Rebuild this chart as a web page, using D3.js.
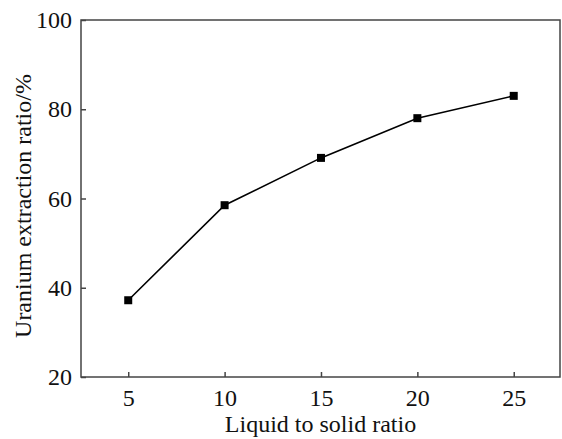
<!DOCTYPE html>
<html>
<head>
<meta charset="utf-8">
<script src="https://cdn.jsdelivr.net/npm/d3@7"></script>
<style>
  body { margin: 0; background: #fff; }
  text { font-family: "Liberation Serif", "DejaVu Serif", serif; fill: #111; }
</style>
</head>
<body>
<script>
// chart data
var ratios = [5, 10, 15, 20, 25];
var extraction = [37.2, 58.5, 69.1, 78, 83];
var xTicks = [5, 10, 15, 20, 25];
var yTicks = [20, 40, 60, 80, 100];

var width = 562, height = 439;
var plotLeft = 81, plotRight = 560, plotTop = 20, plotBottom = 377;

var svg = d3.select("body").append("svg")
    .attr("width", width)
    .attr("height", height);

var x = d3.scaleLinear().domain([2.55, 27.4]).range([plotLeft, plotRight]);
var y = d3.scaleLinear().domain([20, 100]).range([plotBottom, plotTop]);

// frame
svg.append("rect")
    .attr("x", plotLeft).attr("y", plotTop)
    .attr("width", plotRight - plotLeft).attr("height", plotBottom - plotTop)
    .attr("fill", "none")
    .attr("stroke", "#444")
    .attr("stroke-width", 1.5);

// x axis, ticks pointing inward
var xAxis = svg.append("g")
    .attr("transform", "translate(0," + plotBottom + ")")
    .attr("font-family", null)
    .call(d3.axisBottom(x).tickValues(xTicks).tickSize(-5).tickPadding(12));
xAxis.select(".domain").remove();
xAxis.selectAll("line").attr("stroke", "#444").attr("stroke-width", 1.5);
xAxis.selectAll("text").style("font-size", "24px").attr("fill", "#111");

var yAxis = svg.append("g")
    .attr("transform", "translate(" + plotLeft + ",0)")
    .call(d3.axisLeft(y).tickValues(yTicks).tickSize(-5).tickPadding(9));
yAxis.select(".domain").remove();
yAxis.selectAll("line").attr("stroke", "#444").attr("stroke-width", 1.5);
yAxis.selectAll("text").style("font-size", "24px").attr("fill", "#111");

// series line
var line = d3.line()
    .x(function (d, i) { return x(ratios[i]); })
    .y(function (d) { return y(d); });

svg.append("path")
    .datum(extraction)
    .attr("d", line)
    .attr("fill", "none")
    .attr("stroke", "#000")
    .attr("stroke-width", 1.6);

svg.selectAll("rect.pt")
    .data(extraction)
    .enter().append("rect")
    .attr("class", "pt")
    .attr("x", function (d, i) { return x(ratios[i]) - 4; })
    .attr("y", function (d) { return y(d) - 4; })
    .attr("width", 8).attr("height", 8)
    .attr("fill", "#000");

// axis titles
svg.append("text")
    .attr("x", (plotLeft + plotRight) / 2)
    .attr("y", 432)
    .attr("text-anchor", "middle")
    .style("font-size", "24px")
    .text("Liquid to solid ratio");

svg.append("text")
    .attr("transform", "translate(31,206) rotate(-90)")
    .attr("text-anchor", "middle")
    .style("font-size", "24px")
    .text("Uranium extraction ratio/%");
</script>
</body>
</html>
